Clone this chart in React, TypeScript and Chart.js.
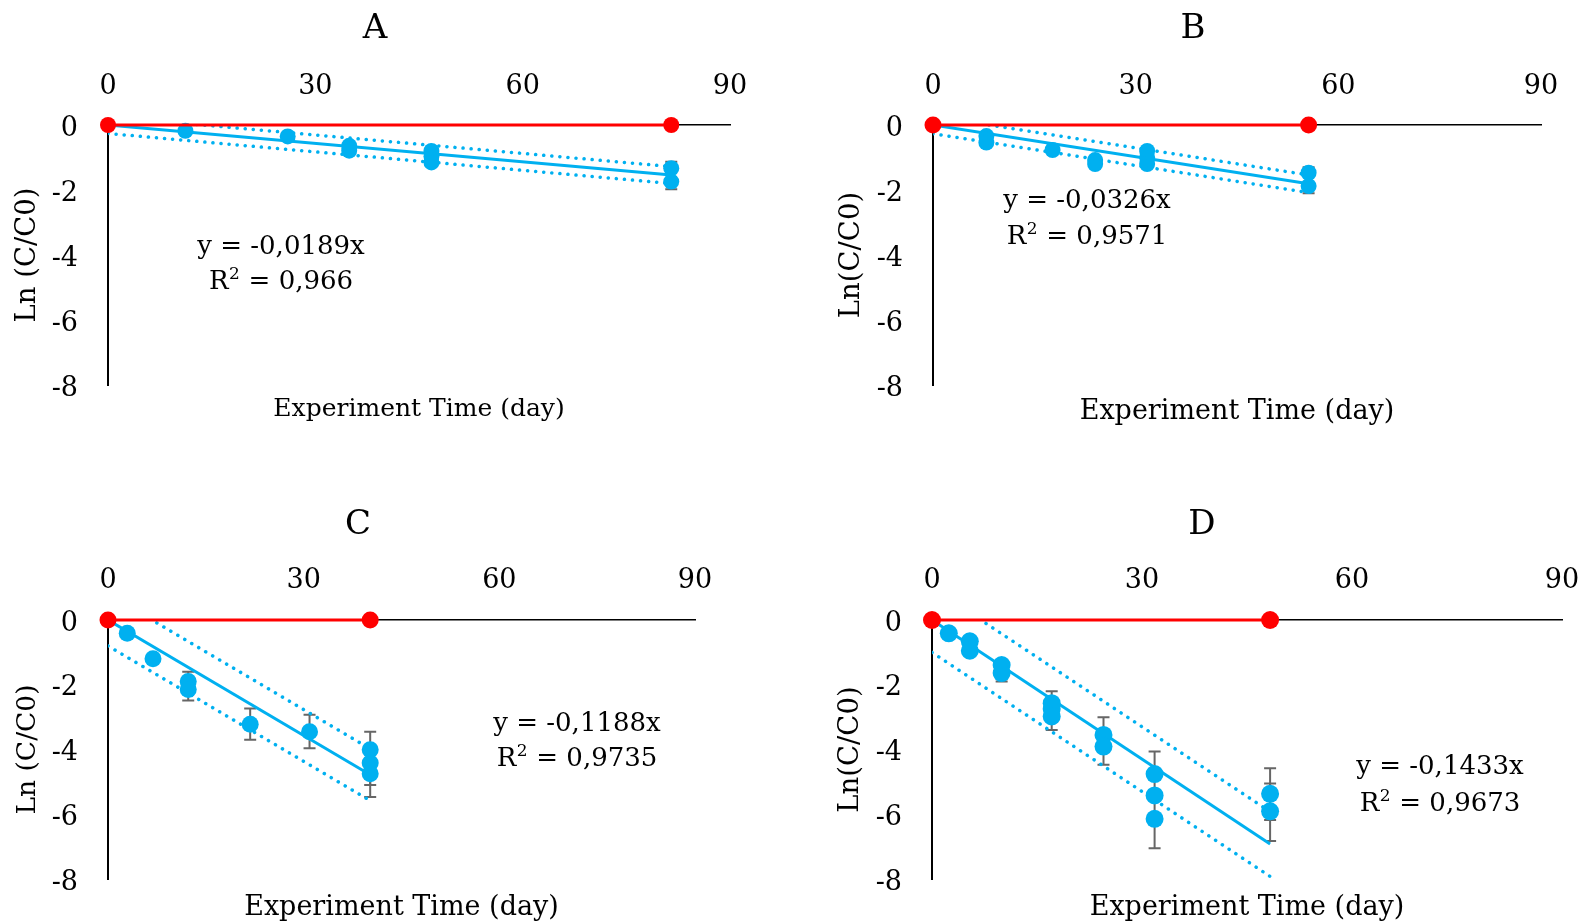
import React, { useEffect, useRef } from "react";
import { Chart, registerables } from "chart.js";

Chart.register(...registerables);

const FONT = "'DejaVu Serif', 'Liberation Serif', serif";
const BLUE = "#00B0F0";
const RED = "#FF0000";
const ERR_GREY = "#666666";

const xTickValues = [0, 30, 60, 90];
const yTickValues = [0, -2, -4, -6, -8];
const xAxisTitle = "Experiment Time (day)";

// ---- Panel A ----
const aDays = [11.2, 26, 34.9, 34.9, 46.8, 46.8, 46.8, 81.5, 81.5];
const aLnRatio = [-0.18, -0.35, -0.64, -0.79, -0.8, -0.97, -1.15, -1.33, -1.74];
const aControlDays = [0, 81.5];
const aControlLn = [0, 0];
const aFitDays = [0, 81.5];
const aFitLn = [0, -1.54];
const aUpperLn = [0.26, -1.28];
const aLowerLn = [-0.26, -1.8];
const aErrDays = [81.5];
const aErrTop = [-1.13];
const aErrBottom = [-1.98];

// ---- Panel B ----
const bDays = [7.9, 7.9, 17.7, 24, 24, 31.7, 31.7, 31.7, 55.6, 55.6];
const bLnRatio = [-0.34, -0.54, -0.77, -1.08, -1.2, -0.8, -1.0, -1.2, -1.47, -1.88];
const bControlDays = [0, 55.6];
const bControlLn = [0, 0];
const bFitDays = [0, 55.6];
const bFitLn = [0, -1.81];
const bUpperLn = [0.27, -1.54];
const bLowerLn = [-0.27, -2.08];
const bErrDays = [55.6];
const bErrTop = [-1.3];
const bErrBottom = [-2.1];

// ---- Panel C ----
const cDays = [2.95, 6.9, 12.3, 12.3, 21.8, 30.9, 40.2, 40.2, 40.2];
const cLnRatio = [-0.41, -1.2, -1.9, -2.15, -3.22, -3.45, -4.01, -4.42, -4.75];
const cControlDays = [0, 40.2];
const cControlLn = [0, 0];
const cFitDays = [0, 40.2];
const cFitLn = [0, -4.78];
const cUpperLn = [0.8, -3.98];
const cLowerLn = [-0.8, -5.58];
const cErrDays = [12.3, 21.8, 30.9, 40.2, 40.2];
const cErrTop = [-1.6, -2.73, -2.93, -3.45, -4.0];
const cErrBottom = [-2.49, -3.7, -3.96, -5.1, -5.47];

// ---- Panel D ----
const dDays = [2.4, 5.4, 5.4, 9.95, 9.95, 17.1, 17.1, 17.1, 24.5, 24.5, 31.8, 31.8, 31.8, 48.3, 48.3];
const dLnRatio = [-0.41, -0.66, -0.95, -1.39, -1.64, -2.57, -2.75, -2.98, -3.55, -3.91, -4.76, -5.42, -6.14, -5.37, -5.91];
const dControlDays = [0, 48.3];
const dControlLn = [0, 0];
const dFitDays = [0, 48.3];
const dFitLn = [0, -6.92];
const dUpperLn = [1.0, -5.92];
const dLowerLn = [-1.0, -7.92];
const dErrDays = [9.95, 17.1, 24.5, 31.8, 48.3, 48.3];
const dErrTop = [-1.24, -2.2, -3.0, -4.06, -4.58, -5.05];
const dErrBottom = [-1.9, -3.4, -4.47, -7.05, -6.18, -6.83];

type PanelSpec = {
  left: number; top: number; width: number; height: number;
  padRight: number; yAxisWidth: number; topAxisHeight: number; bottomAxisHeight: number;
  tickPad: number; tickSize: number;
  yTitle: string; yTitleSize: number; yTitlePad: number;
  xTitleSize: number; xTitlePad: number;
  title: string; titleX: number; titleY: number; titleSize: number;
  eq1: string; r2: string; eqX: number; eqY1: number; eqY2: number; eqSize: number;
  days: number[]; ln: number[];
  controlDays: number[]; controlLn: number[];
  fitDays: number[]; fitLn: number[]; upperLn: number[]; lowerLn: number[];
  errDays: number[]; errTop: number[]; errBottom: number[];
  blueR: number; redR: number;
};

const panels: PanelSpec[] = [
  {
    left: 0, top: 0, width: 760, height: 450,
    padRight: 30, yAxisWidth: 108, topAxisHeight: 125, bottomAxisHeight: 65,
    tickPad: 22, tickSize: 27,
    yTitle: "Ln (C/C0)", yTitleSize: 27.5, yTitlePad: 11.5,
    xTitleSize: 25, xTitlePad: 25.5,
    title: "A", titleX: 375, titleY: 29, titleSize: 34,
    eq1: "y = -0,0189x", r2: "0,966", eqX: 281, eqY1: 247, eqY2: 282, eqSize: 26,
    days: aDays, ln: aLnRatio, controlDays: aControlDays, controlLn: aControlLn,
    fitDays: aFitDays, fitLn: aFitLn, upperLn: aUpperLn, lowerLn: aLowerLn,
    errDays: aErrDays, errTop: aErrTop, errBottom: aErrBottom,
    blueR: 8, redR: 8,
  },
  {
    left: 800, top: 0, width: 785, height: 450,
    padRight: 44, yAxisWidth: 133, topAxisHeight: 125, bottomAxisHeight: 65,
    tickPad: 22, tickSize: 27,
    yTitle: "Ln(C/C0)", yTitleSize: 27.5, yTitlePad: 35.5,
    xTitleSize: 27, xTitlePad: 21.5,
    title: "B", titleX: 393, titleY: 29, titleSize: 34,
    eq1: "y = -0,0326x", r2: "0,9571", eqX: 287, eqY1: 201, eqY2: 237, eqSize: 26,
    days: bDays, ln: bLnRatio, controlDays: bControlDays, controlLn: bControlLn,
    fitDays: bFitDays, fitLn: bFitLn, upperLn: bUpperLn, lowerLn: bLowerLn,
    errDays: bErrDays, errTop: bErrTop, errBottom: bErrBottom,
    blueR: 8, redR: 8.5,
  },
  {
    left: 0, top: 460, width: 760, height: 464,
    padRight: 65, yAxisWidth: 108, topAxisHeight: 160, bottomAxisHeight: 45,
    tickPad: 23, tickSize: 27,
    yTitle: "Ln (C/C0)", yTitleSize: 26.5, yTitlePad: 12,
    xTitleSize: 27, xTitlePad: 0,
    title: "C", titleX: 358, titleY: 65, titleSize: 34,
    eq1: "y = -0,1188x", r2: "0,9735", eqX: 577, eqY1: 264, eqY2: 299, eqSize: 26,
    days: cDays, ln: cLnRatio, controlDays: cControlDays, controlLn: cControlLn,
    fitDays: cFitDays, fitLn: cFitLn, upperLn: cUpperLn, lowerLn: cLowerLn,
    errDays: cErrDays, errTop: cErrTop, errBottom: cErrBottom,
    blueR: 8.5, redR: 8.5,
  },
  {
    left: 800, top: 460, width: 785, height: 464,
    padRight: 23, yAxisWidth: 132, topAxisHeight: 160, bottomAxisHeight: 45,
    tickPad: 23, tickSize: 27,
    yTitle: "Ln(C/C0)", yTitleSize: 27.5, yTitlePad: 34.5,
    xTitleSize: 27, xTitlePad: 0,
    title: "D", titleX: 402, titleY: 65, titleSize: 34,
    eq1: "y = -0,1433x", r2: "0,9673", eqX: 640, eqY1: 307, eqY2: 344, eqSize: 26,
    days: dDays, ln: dLnRatio, controlDays: dControlDays, controlLn: dControlLn,
    fitDays: dFitDays, fitLn: dFitLn, upperLn: dUpperLn, lowerLn: dLowerLn,
    errDays: dErrDays, errTop: dErrTop, errBottom: dErrBottom,
    blueR: 9, redR: 9,
  },
];

function pts(xs: number[], ys: number[]) {
  return xs.map((x, i) => ({ x, y: ys[i] }));
}

function Panel({ spec }: { spec: PanelSpec }) {
  const ref = useRef<HTMLCanvasElement>(null);
  useEffect(() => {
    const canvas = ref.current;
    if (!canvas) return;

    const errorBars = {
      id: "errorBars",
      beforeDatasetsDraw(chart: any) {
        const ctx = chart.ctx;
        const xs = chart.scales.x;
        const ys = chart.scales.y;
        ctx.save();
        ctx.strokeStyle = ERR_GREY;
        ctx.lineWidth = 2;
        spec.errDays.forEach((d, i) => {
          const px = xs.getPixelForValue(d);
          const y1 = ys.getPixelForValue(spec.errTop[i]);
          const y2 = ys.getPixelForValue(spec.errBottom[i]);
          ctx.beginPath();
          ctx.moveTo(px, y1);
          ctx.lineTo(px, y2);
          ctx.moveTo(px - 6, y1);
          ctx.lineTo(px + 6, y1);
          ctx.moveTo(px - 6, y2);
          ctx.lineTo(px + 6, y2);
          ctx.stroke();
        });
        ctx.restore();
      },
    };

    // nudge y tick labels so the digits sit centred on their values
    const labelNudge = {
      id: "labelNudge",
      beforeDraw(chart: any) {
        const items = chart.scales.y.getLabelItems();
        items.forEach((it: any) => {
          if (!it.__nudged) {
            it.textOffset += 3.5;
            it.__nudged = true;
          }
        });
      },
    };

    const texts = {
      id: "panelTexts",
      afterDraw(chart: any) {
        const ctx = chart.ctx;
        ctx.save();
        ctx.fillStyle = "#000";
        ctx.textAlign = "center";
        ctx.textBaseline = "middle";
        ctx.font = `${spec.titleSize}px ${FONT}`;
        ctx.fillText(spec.title, spec.titleX, spec.titleY);
        const mainFont = `${spec.eqSize}px ${FONT}`;
        const supFont = `${Math.round(spec.eqSize * 0.66)}px ${FONT}`;
        ctx.font = mainFont;
        ctx.fillText(spec.eq1, spec.eqX, spec.eqY1);
        // R² line with a real superscript
        const rest = " = " + spec.r2;
        ctx.textAlign = "left";
        ctx.font = mainFont;
        const wR = ctx.measureText("R").width;
        const wRest = ctx.measureText(rest).width;
        ctx.font = supFont;
        const wSup = ctx.measureText("2").width + 1;
        const total = wR + wSup + wRest;
        let x = spec.eqX - total / 2;
        ctx.font = mainFont;
        ctx.fillText("R", x, spec.eqY2);
        x += wR;
        ctx.font = supFont;
        ctx.fillText("2", x + 0.5, spec.eqY2 - spec.eqSize * 0.3);
        x += wSup;
        ctx.font = mainFont;
        ctx.fillText(rest, x, spec.eqY2);
        ctx.restore();
      },
    };

    const tickFont = { family: FONT, size: spec.tickSize };

    const chart = new Chart(canvas, {
      type: "scatter",
      data: {
        datasets: [
          {
            label: "Control",
            data: pts(spec.controlDays, spec.controlLn),
            showLine: true,
            borderColor: RED,
            backgroundColor: RED,
            borderWidth: 3,
            pointRadius: spec.redR,
            pointHoverRadius: spec.redR,
            pointBorderWidth: 0,
            clip: false,
            order: 0,
            xAxisID: "x",
            yAxisID: "y",
          },
          {
            label: "Linear fit",
            data: pts(spec.fitDays, spec.fitLn),
            showLine: true,
            borderColor: BLUE,
            borderWidth: 3,
            pointRadius: 0,
            clip: 0,
            order: 1,
            xAxisID: "x",
            yAxisID: "y",
          },
          {
            label: "Upper band",
            data: pts(spec.fitDays, spec.upperLn),
            showLine: true,
            borderColor: BLUE,
            borderWidth: 3.5,
            borderDash: [0.1, 8],
            borderCapStyle: "round",
            pointRadius: 0,
            clip: 0,
            order: 2,
            xAxisID: "x",
            yAxisID: "y",
          },
          {
            label: "Lower band",
            data: pts(spec.fitDays, spec.lowerLn),
            showLine: true,
            borderColor: BLUE,
            borderWidth: 3.5,
            borderDash: [0.1, 8],
            borderCapStyle: "round",
            pointRadius: 0,
            clip: 0,
            order: 3,
            xAxisID: "x",
            yAxisID: "y",
          },
          {
            label: "Ln(C/C0)",
            data: pts(spec.days, spec.ln),
            showLine: false,
            backgroundColor: BLUE,
            borderColor: BLUE,
            pointRadius: spec.blueR,
            pointHoverRadius: spec.blueR,
            pointBorderWidth: 0,
            clip: false,
            order: 4,
            xAxisID: "x",
            yAxisID: "y",
          },
        ],
      },
      options: {
        responsive: false,
        animation: false,
        events: [],
        layout: { padding: { left: 0, top: 0, right: spec.padRight, bottom: 0 } },
        plugins: {
          legend: { display: false },
          tooltip: { enabled: false },
          title: { display: false },
        },
        scales: {
          x: {
            type: "linear",
            axis: "x",
            position: "top",
            min: 0,
            max: 90,
            afterBuildTicks: (s: any) => {
              s.ticks = xTickValues.map((v) => ({ value: v }));
            },
            afterFit: (s: any) => {
              s.height = spec.topAxisHeight;
              s.paddingLeft = 0;
              s.paddingRight = 0;
            },
            ticks: { font: tickFont, color: "#000", padding: spec.tickPad, maxRotation: 0, autoSkip: false },
            grid: { display: false, drawTicks: false },
            border: { display: true, color: "#000", width: 1.5 },
          },
          y: {
            type: "linear",
            axis: "y",
            position: "left",
            min: -8,
            max: 0,
            afterBuildTicks: (s: any) => {
              s.ticks = yTickValues.map((v) => ({ value: v }));
            },
            afterFit: (s: any) => {
              s.width = spec.yAxisWidth;
              s.paddingTop = 0;
              s.paddingBottom = 0;
            },
            ticks: { font: tickFont, color: "#000", padding: 30, autoSkip: false },
            grid: { display: false, drawTicks: false },
            border: { display: true, color: "#000", width: 2 },
            title: {
              display: true,
              text: spec.yTitle,
              color: "#000",
              font: { family: FONT, size: spec.yTitleSize },
              padding: { top: spec.yTitlePad, bottom: 0 },
            },
          },
          x2: {
            type: "linear",
            axis: "x",
            position: "bottom",
            min: 0,
            max: 90,
            afterFit: (s: any) => {
              s.height = spec.bottomAxisHeight;
              s.paddingLeft = 0;
              s.paddingRight = 0;
            },
            ticks: { display: false },
            grid: { display: false, drawTicks: false },
            border: { display: false },
            title: {
              display: true,
              text: xAxisTitle,
              color: "#000",
              font: { family: FONT, size: spec.xTitleSize },
              padding: { top: 0, bottom: spec.xTitlePad },
            },
          },
        },
      } as any,
      plugins: [errorBars, labelNudge, texts],
    });
    return () => chart.destroy();
  }, [spec]);

  return (
    <canvas
      ref={ref}
      width={spec.width}
      height={spec.height}
      style={{ position: "absolute", left: spec.left, top: spec.top, width: spec.width, height: spec.height }}
    />
  );
}

export default function App() {
  return (
    <div style={{ position: "fixed", left: 0, top: 0, width: 1585, height: 924, background: "#fff", overflow: "hidden" }}>
      {panels.map((p) => (
        <Panel key={p.title} spec={p} />
      ))}
    </div>
  );
}
